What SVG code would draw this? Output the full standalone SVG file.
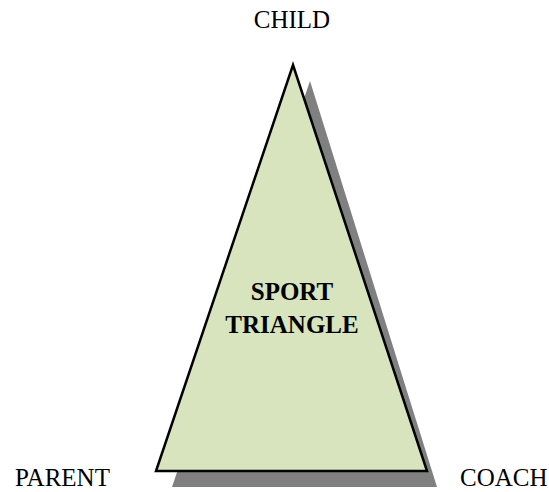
<svg xmlns="http://www.w3.org/2000/svg" width="549" height="492" viewBox="0 0 549 492">
<style>
.lbl{font-family:"Liberation Serif","Times New Roman",serif;font-size:25px;fill:#000}
.ttl{font-family:"Liberation Serif","Times New Roman",serif;font-size:25px;font-weight:bold;fill:#000;text-anchor:middle}
</style>
<rect width="549" height="492" fill="#fff"/>
<g id="triangle">
<polygon points="310,81 437,487 172,487" fill="#808080"/>
<polygon points="293,65 427,471 156,471" fill="#d7e4bd" stroke="#000" stroke-width="2.5" stroke-linejoin="miter"/>
<text class="ttl" x="292" y="300">SPORT</text>
<text class="ttl" x="292" y="333">TRIANGLE</text>
</g>
<g id="child"><text class="lbl" x="292" y="28" text-anchor="middle">CHILD</text></g>
<g id="parent"><text class="lbl" x="15" y="486">PARENT</text></g>
<g id="coach"><text class="lbl" x="460" y="486">COACH</text></g>
<g id="connectors"></g>
</svg>
